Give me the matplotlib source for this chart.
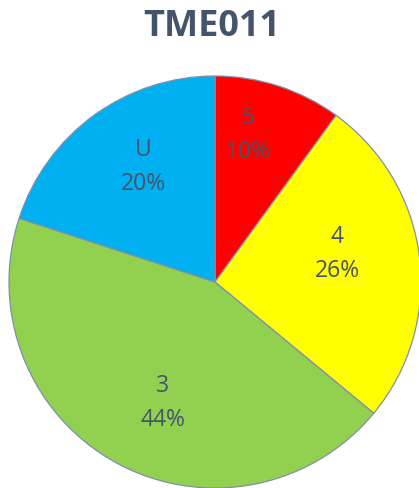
import matplotlib
matplotlib.use("Agg")
import matplotlib.pyplot as plt
import numpy as np

categories = ["5", "4", "3", "U"]
values = [10, 26, 44, 20]
colors = ["#FF0000", "#FFFF00", "#92D050", "#00B0F0"]
title = "TME011"

W, H = 419, 488
fig = plt.figure(figsize=(W / 100, H / 100), dpi=100)
ax = fig.add_axes([0, 0, 1, 1])
cx, cy, R = 215, 282, 206

wedges, _ = ax.pie(values, colors=colors, startangle=90, counterclock=False,
                   radius=1.0, center=(0, 0), frame=True,
                   wedgeprops=dict(edgecolor="#8090AA", linewidth=0.9))
ax.set_xlim(-cx / R, (W - cx) / R)
ax.set_ylim(-(H - cy) / R, cy / R)
ax.set_aspect("auto")
ax.axis("off")

# label placement (pixel offsets from pie centre), layout only
label_off = [(33, 147), (122, 28), (-52, -121), (-72, 115)]
total = sum(values)
for cat, v, (dx, dy) in zip(categories, values, label_off):
    ax.text(dx / R, dy / R, f"{cat}\n{round(100 * v / total)}%", ha="center", va="center",
            fontsize=16.5, color="#44546A", family="Open Sans", linespacing=1.55)

fig.text(212 / W, 1 - 27 / H, title, ha="center", va="center", fontsize=26,
         fontweight="bold", color="#44546A", family="Open Sans")

fig.savefig("out.png", dpi=100)
